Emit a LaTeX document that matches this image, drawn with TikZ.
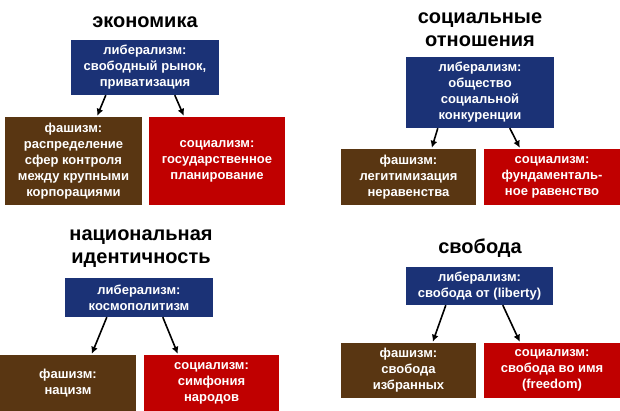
\documentclass[tikz,border=0pt]{standalone}
\usepackage{fontspec}
\setmainfont{Liberation Sans}
\usetikzlibrary{calc,arrows.meta}
\definecolor{lib}{HTML}{1B3276}
\definecolor{fas}{HTML}{593612}
\definecolor{soc}{HTML}{C00000}
\tikzset{
 box/.style={text=white,font=\bfseries\fontsize{13}{16}\selectfont,align=center,inner sep=0pt},
 libbox/.style={box,fill=lib},
 fasbox/.style={box,fill=fas},
 socbox/.style={box,fill=soc},
 ttl/.style={font=\bfseries\fontsize{20}{23}\selectfont,align=center},
 arr/.style={-{Latex[length=7pt,width=7pt]},line width=1.6pt}
}
\begin{document}
\begin{tikzpicture}[x=1pt,y=-1pt]
\useasboundingbox (0,0) rectangle (620,411);
% Q1
\node[ttl] (t1) at (145,22) {экономика};
\node[libbox,minimum width=148pt,minimum height=55pt] (b1) at (145,67.5) {либерализм:\\свободный рынок,\\приватизация};
\node[fasbox,minimum width=137pt,minimum height=88pt] (f1) at (73.5,161) {фашизм:\\распределение\\сфер контроля\\между крупными\\корпорациями};
\node[socbox,minimum width=136pt,minimum height=88pt] (s1) at (217,161) {социализм:\\государственное\\планирование};
\draw[arr] ($(b1.south west)+(35,0)$) -- ($(f1.north east)+(-45,-1)$);
\draw[arr] ($(b1.south west)+(104,0)$) -- ($(s1.north west)+(35,-1)$);
% Q2
\node[ttl] (t2) at (480,30) {социальные\\отношения};
\node[libbox,minimum width=148pt,minimum height=71pt] (b2) at (480,92.5) {либерализм:\\общество\\социальной\\конкуренции};
\node[fasbox,minimum width=135pt,minimum height=56pt] (f2) at (408.5,177) {фашизм:\\легитимизация\\неравенства};
\node[socbox,minimum width=136pt,minimum height=56pt] (s2) at (552,177) {социализм:\\фундаменталь-\\ное равенство};
\draw[arr] ($(b2.south west)+(32,0)$) -- ($(f2.north west)+(91,-1)$);
\draw[arr] ($(b2.south west)+(104,0)$) -- ($(s2.north west)+(36,-1)$);
% Q3
\node[ttl] (t3) at (141,249) {национальная\\идентичность};
\node[libbox,minimum width=148pt,minimum height=39pt] (b3) at (139,297.5) {либерализм:\\космополитизм};
\node[fasbox,minimum width=136pt,minimum height=56pt] (f3) at (68,383) {фашизм:\\нацизм};
\node[socbox,minimum width=135pt,minimum height=56pt] (s3) at (211.5,383) {социализм:\\симфония\\народов};
\draw[arr] ($(b3.south west)+(42,0)$) -- ($(f3.north west)+(92,-1)$);
\draw[arr] ($(b3.south west)+(98,0)$) -- ($(s3.north west)+(34,-1)$);
% Q4
\node[ttl] (t4) at (480,248) {свобода};
\node[libbox,minimum width=147pt,minimum height=38pt] (b4) at (479.5,286) {либерализм:\\свобода от (liberty)};
\node[fasbox,minimum width=135pt,minimum height=55pt] (f4) at (408.5,370.5) {фашизм:\\свобода\\избранных};
\node[socbox,minimum width=136pt,minimum height=55pt] (s4) at (552,370.5) {социализм:\\свобода во имя\\(freedom)};
\draw[arr] ($(b4.south west)+(40,0)$) -- ($(f4.north west)+(92,-1)$);
\draw[arr] ($(b4.south west)+(97,0)$) -- ($(s4.north west)+(36,-1)$);
\end{tikzpicture}
\end{document}
